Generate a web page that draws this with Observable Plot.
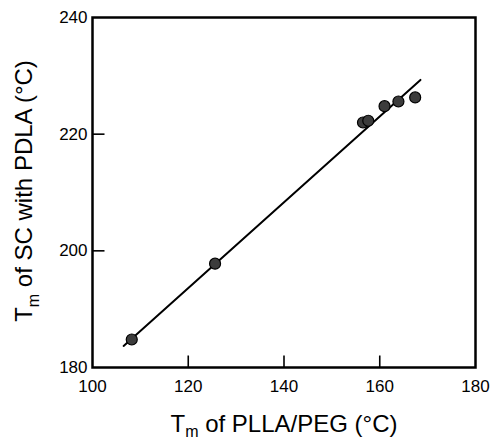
<!DOCTYPE html>
<html>
<head>
<meta charset="utf-8">
<script src="https://cdn.jsdelivr.net/npm/d3@7"></script>
<script src="https://cdn.jsdelivr.net/npm/@observablehq/plot@0.6"></script>
<style>
  html, body { margin: 0; padding: 0; background: #fff; }
  svg { font-family: "Liberation Sans", Arial, sans-serif; }
</style>
</head>
<body>
<div id="chart"></div>
<script>
// Data
const tmPLLA = [108.2, 125.6, 156.5, 157.6, 161.0, 163.9, 167.4];   // x: Tm of PLLA/PEG (°C)
const tmSC   = [184.8, 197.8, 222.0, 222.3, 224.8, 225.6, 226.3];   // y: Tm of SC with PDLA (°C)
const fitX = [106.5, 168.5];
const fitY = [183.7, 229.3];
const xTicks = [100, 120, 140, 160, 180];
const yTicks = [180, 200, 220, 240];
const xInnerTicks = [120, 140, 160];
const yInnerTicks = [200, 220];

const points = tmPLLA.map((x, i) => ({x, y: tmSC[i]}));
const fit = fitX.map((x, i) => ({x, y: fitY[i]}));

const W = 491, H = 442;
const mL = 92, mR = 16, mT = 17, mB = 75;
const innerW = W - mL - mR, innerH = H - mT - mB;
const xDomain = [100, 180], yDomain = [180, 240];
const tickLen = 12;
const tickLenX = tickLen * (xDomain[1] - xDomain[0]) / innerW;  // in x units
const tickLenY = tickLen * (yDomain[1] - yDomain[0]) / innerH;  // in y units

const xTickRows = xInnerTicks.map(v => ({x: v, y1: yDomain[0], y2: yDomain[0] + tickLenY}));
const yTickRows = yInnerTicks.map(v => ({y: v, x1: xDomain[0], x2: xDomain[0] + tickLenX}));

const chart = Plot.plot({
  width: W,
  height: H,
  marginLeft: mL,
  marginRight: mR,
  marginTop: mT,
  marginBottom: mB,
  style: {fontFamily: "'Liberation Sans', Arial, sans-serif", fontSize: "17px", color: "black", background: "white"},
  x: {domain: xDomain},
  y: {domain: yDomain},
  marks: [
    Plot.axisX({ticks: xTicks, tickSize: 0, tickPadding: 12.5, label: null, fontSize: 17}),
    Plot.axisY({ticks: yTicks, tickSize: 0, tickPadding: 5, label: null, fontSize: 17}),
    // inward ticks on bottom and left edges
    Plot.link(xTickRows, {x1: "x", x2: "x", y1: "y1", y2: "y2", stroke: "black", strokeWidth: 1.6}),
    Plot.link(yTickRows, {y1: "y", y2: "y", x1: "x1", x2: "x2", stroke: "black", strokeWidth: 1.6}),
    Plot.line(fit, {x: "x", y: "y", stroke: "black", strokeWidth: 2}),
    Plot.dot(points, {x: "x", y: "y", r: 5.5, fill: "#3c3c3c", stroke: "black", strokeWidth: 1.2}),
    Plot.frame({stroke: "black", strokeWidth: 2.5})
  ]
});

const svg = d3.select(chart);
// x-axis title
const xt = svg.append("text")
  .attr("x", 284)
  .attr("y", 432)
  .attr("text-anchor", "middle")
  .attr("font-size", 24)
  .attr("fill", "black");
xt.append("tspan").text("T");
xt.append("tspan").attr("font-size", 16).attr("dy", 5).text("m");
xt.append("tspan").attr("dy", -5).text(" of PLLA/PEG (°C)");

// y-axis title
const yt = svg.append("text")
  .attr("transform", `translate(32, 191) rotate(-90)`)
  .attr("text-anchor", "middle")
  .attr("font-size", 24)
  .attr("fill", "black");
yt.append("tspan").text("T");
yt.append("tspan").attr("font-size", 16).attr("dy", 7).text("m");
yt.append("tspan").attr("dy", -7).text(" of SC with PDLA (°C)");

document.getElementById("chart").appendChild(chart);
</script>
</body>
</html>
